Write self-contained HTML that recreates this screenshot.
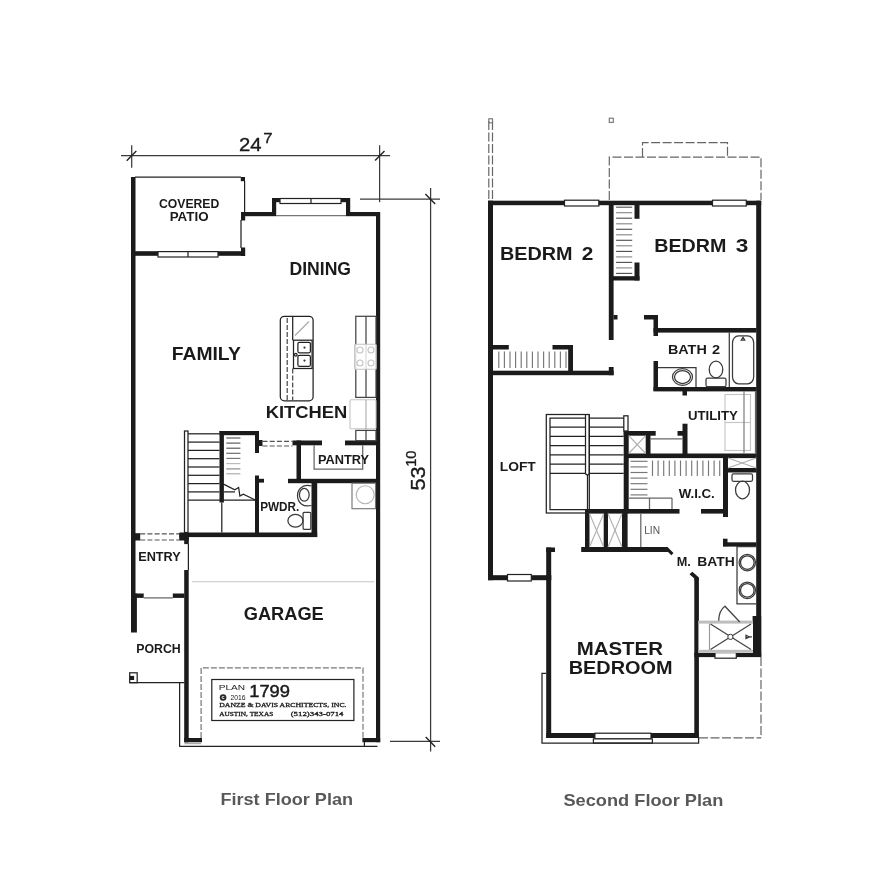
<!DOCTYPE html>
<html lang="en">
<head>
<meta charset="utf-8">
<title>Floor Plan 1799</title>
<style>
html,body{margin:0;padding:0;background:#fff;}
body{width:878px;height:894px;overflow:hidden;}
svg{display:block;will-change:transform;filter:blur(0.4px);}
.w{fill:#1b1b1b;}
.t{stroke:#222;stroke-width:1.25;fill:none;}
.tl{stroke:#777;stroke-width:1.15;fill:none;}
.g{stroke:#c4c4c4;stroke-width:1.1;fill:none;}
.d{stroke:#444;stroke-width:1.2;fill:none;stroke-dasharray:5 2.2;}
.win{fill:#fff;stroke:#222;stroke-width:1.2;}
text{font-family:"Liberation Sans",sans-serif;fill:#1a1a1a;font-weight:bold;text-anchor:middle;}
.cap{fill:#666;font-size:16.5px;}
.ser{font-family:"Liberation Serif",serif;font-weight:bold;font-size:7px;text-anchor:start;}
</style>
</head>
<body>
<svg width="878" height="894" viewBox="0 0 878 894">
<rect x="0" y="0" width="878" height="894" fill="#ffffff"/>

<!-- ================= FIRST FLOOR ================= -->
<g id="first-floor">
<!-- dimension lines -->
<g class="t" style="stroke:#3a3a3a">
<line x1="121" y1="155.6" x2="390" y2="155.6"/>
<line x1="131.7" y1="145.3" x2="131.7" y2="167.7"/>
<line x1="379.6" y1="145.3" x2="379.6" y2="202.2"/>
<line x1="360" y1="199" x2="440" y2="199"/>
<line x1="430.6" y1="188" x2="430.6" y2="751.6"/>
<line x1="390" y1="741.4" x2="440" y2="741.4"/>
</g>
<g style="stroke:#222;stroke-width:1.4;fill:none">
<line x1="126.7" y1="160.8" x2="136.3" y2="150.9"/>
<line x1="375.1" y1="160.6" x2="384.5" y2="151"/>
<line x1="425.4" y1="194" x2="435.2" y2="203.9"/>
<line x1="425.7" y1="736.9" x2="435.2" y2="746.7"/>
</g>

<!-- walls -->
<g class="w">
<rect x="131" y="177" width="4.5" height="420"/>
<rect x="131" y="593.5" width="5.9" height="39"/>
<rect x="240.8" y="177" width="4.2" height="4.2"/>
<rect x="241" y="212" width="35" height="4.2"/>
<rect x="241" y="212" width="4.2" height="8.5"/>
<rect x="272" y="198" width="4.2" height="18"/>
<rect x="272" y="198" width="8" height="4.2"/>
<rect x="341" y="198" width="9" height="4.2"/>
<rect x="346" y="198" width="4.2" height="18"/>
<rect x="346" y="212" width="34" height="4.2"/>
<rect x="376" y="212" width="4.2" height="530.2"/>
<rect x="362.4" y="738" width="17.8" height="4.2"/>
<rect x="135" y="251.2" width="23" height="4.6"/>
<rect x="218" y="251.2" width="27" height="4.6"/>
<rect x="241" y="247.5" width="4.2" height="8.5"/>
<!-- interior -->
<rect x="219.5" y="431" width="4.4" height="71.5"/>
<rect x="219.5" y="431" width="39.5" height="4.2"/>
<rect x="255" y="431" width="4" height="22"/>
<rect x="259" y="440" width="3.5" height="6"/>
<rect x="292.5" y="440.5" width="29.5" height="4.8"/>
<rect x="345" y="440.5" width="31" height="4.8"/>
<rect x="296.5" y="440.5" width="4.5" height="42.5"/>
<rect x="288" y="478.8" width="88" height="4.4"/>
<rect x="311.5" y="483" width="5.7" height="54"/>
<rect x="255" y="475.5" width="4" height="57.5"/>
<rect x="259" y="478.8" width="5" height="3.8"/>
<rect x="179.5" y="532.5" width="137.7" height="4.6"/>
<rect x="179.2" y="533" width="9.6" height="7.5"/><rect x="184.2" y="533" width="4.6" height="11.1"/>
<rect x="135" y="533.2" width="5.2" height="7.3"/>
<rect x="184.2" y="570" width="4.5" height="172.3"/>
<rect x="184.2" y="738" width="17.8" height="4.3"/>
<rect x="135" y="593.5" width="8.7" height="4.4"/>
<rect x="172.8" y="593.5" width="11.5" height="4.4"/>
</g>

<!-- thin lines -->
<g class="t">
<line x1="135" y1="177.2" x2="241" y2="177.2" style="stroke-width:1.2"/>
<line x1="244.6" y1="181" x2="244.6" y2="212"/>
<line x1="241" y1="220" x2="241" y2="248"/>
<line x1="276" y1="215.6" x2="346" y2="215.6" style="stroke:#777"/>
<line x1="188.4" y1="544" x2="188.4" y2="570"/>
<line x1="143.7" y1="597.9" x2="172.8" y2="597.9" style="stroke:#666"/>
<line x1="129.7" y1="682.7" x2="184.4" y2="682.7" style="stroke-width:1.2"/>
<line x1="179.6" y1="682.5" x2="179.6" y2="746.5"/>
<line x1="179.2" y1="746.4" x2="377.5" y2="746.4"/><line x1="364.4" y1="742" x2="364.4" y2="746.4"/>
<line x1="184.5" y1="743.6" x2="201" y2="743.6" style="stroke:#aaa"/>
<rect x="129.7" y="672.8" width="7.5" height="9.9"/>
</g>
<rect class="w" x="129.7" y="675.9" width="4.4" height="4.1"/>
<line class="g" x1="192" y1="581.8" x2="374" y2="581.8"/>

<!-- windows -->
<rect class="win" x="158" y="251.6" width="60" height="5.4"/>
<line class="t" x1="188" y1="251.6" x2="188" y2="257"/>
<rect class="win" x="280" y="198.5" width="61" height="5"/>
<line class="t" x1="311" y1="198.5" x2="311" y2="203.5"/>

<!-- dashed door openings -->
<g class="d" style="stroke:#555">
<line x1="262.5" y1="441.3" x2="292.5" y2="441.3"/>
<line x1="262.5" y1="446" x2="292.5" y2="446"/>
<line x1="140.2" y1="533.8" x2="179.2" y2="533.8"/>
<line x1="140.2" y1="540" x2="179.2" y2="540"/>
</g>

<!-- stairs -->
<g class="t">
<rect x="184.5" y="431" width="3.5" height="101.5"/>
<line x1="188" y1="433.8" x2="219.5" y2="433.8"/>
<line x1="188" y1="442.1" x2="219.5" y2="442.1"/>
<line x1="188" y1="450.4" x2="219.5" y2="450.4"/>
<line x1="188" y1="458.7" x2="219.5" y2="458.7"/>
<line x1="188" y1="467" x2="219.5" y2="467"/>
<line x1="188" y1="475.3" x2="219.5" y2="475.3"/>
<line x1="188" y1="483.6" x2="219.5" y2="483.6"/>
<line x1="188" y1="491.9" x2="219.5" y2="491.9"/>
<line x1="188" y1="500.2" x2="255" y2="500.2"/>
<line x1="221.8" y1="502.5" x2="221.8" y2="532.5"/>
<polyline points="219.8,482.4 224.5,484.6 234.8,489.7 238.6,487.5 239.9,496 243.3,494.3 255.3,500"/>
<line x1="224" y1="491.9" x2="235" y2="491.9"/>
</g>
<g class="tl" style="stroke:#555">
<line x1="226.3" y1="438" x2="240.4" y2="438"/>
<line x1="226.3" y1="443.1" x2="240.4" y2="443.1"/>
<line x1="226.3" y1="448.2" x2="240.4" y2="448.2"/>
<line x1="226.3" y1="453.3" x2="240.4" y2="453.3" style="stroke:#666"/>
<line x1="226.3" y1="458.4" x2="240.4" y2="458.4" style="stroke:#777"/>
<line x1="226.3" y1="463.6" x2="240.4" y2="463.6" style="stroke:#bbb"/>
<line x1="226.3" y1="468.9" x2="240.4" y2="468.9" style="stroke:#888"/>
<line x1="226.3" y1="473.8" x2="240.4" y2="473.8" style="stroke:#aaa"/>
</g>

<!-- kitchen island -->
<g class="t">
<rect x="280.3" y="316.3" width="32.8" height="84.5" rx="4" ry="4"/>
<line x1="292.7" y1="316.3" x2="292.7" y2="340.2"/>
<rect x="293.5" y="340.2" width="18.6" height="28.3"/>
<rect x="297.9" y="342.3" width="12.5" height="10.5" rx="1.5"/>
<rect x="297.9" y="355.4" width="12.5" height="11" rx="1.5"/>
<circle cx="295.8" cy="354.7" r="1.3"/>
</g>
<line class="tl" x1="309" y1="321.5" x2="295" y2="335.5" style="stroke:#aaa"/>
<g class="d" style="stroke:#444;stroke-dasharray:5 2">
<line x1="287.2" y1="318" x2="287.2" y2="400"/>
<line x1="292.7" y1="368.5" x2="292.7" y2="400"/>
</g>
<circle cx="304.5" cy="347.6" r="1.1" fill="#333"/>
<circle cx="304.5" cy="360.6" r="1.1" fill="#333"/>

<!-- right counter -->
<g class="t" style="stroke:#444">
<rect x="355.8" y="316.3" width="20.2" height="81.1"/>
<line x1="366" y1="316.3" x2="366" y2="397.4"/>
<rect x="355.8" y="430.4" width="20.2" height="10.3"/>
<line x1="366" y1="430.4" x2="366" y2="440.5"/>
</g>
<g class="g">
<rect x="354.6" y="344.2" width="21.6" height="25" fill="#fff" fill-opacity="0.8" rx="1"/>
<circle cx="360" cy="350" r="3"/><circle cx="371" cy="350" r="3"/>
<circle cx="360" cy="363" r="3"/><circle cx="371" cy="363" r="3"/>
<rect x="350" y="399.8" width="26" height="29" fill="#fff" rx="1"/>
<line x1="366" y1="400" x2="366" y2="430" style="stroke:#aaa"/>
</g>

<!-- pantry shelves -->
<g class="t" style="stroke:#666">
<polyline points="314.1,445.3 314.1,469.1 362.7,469.1 362.7,445.3"/>
</g>
<!-- water heater -->
<g class="tl">
<rect x="352" y="483.2" width="23.5" height="25.5"/>
<circle cx="365.2" cy="494.7" r="9" style="stroke:#b5b5b5"/>
</g>

<!-- powder room fixtures -->
<g class="t" style="stroke:#3a3a3a">
<path d="M311.5,486 C303,483.5 297.5,489 297.5,495.6 C297.5,502.5 303,507.5 311.5,505.5"/>
<ellipse cx="304.3" cy="494.8" rx="4.9" ry="6.4"/>
<ellipse cx="295.4" cy="520.8" rx="7.5" ry="6.4"/>
<rect x="303.1" y="512.3" width="7.7" height="17" rx="1"/>
</g>

<!-- garage dashed + title block -->
<polyline class="d" style="stroke:#777;stroke-dasharray:6 2" points="201.1,738 201.1,667.8 363,667.8 363,738"/>
<rect x="211.8" y="679.5" width="142.1" height="41" fill="#fff" stroke="#222" stroke-width="1.2"/>
<circle cx="223.1" cy="697.5" r="3.3" fill="#2a2a2a"/><text x="223.1" y="699.4" font-size="5.5" style="fill:#fff">c</text>

<!-- labels -->
</g>

<!-- ================= SECOND FLOOR ================= -->
<g id="second-floor">
<!-- dashed roof outlines -->
<g class="d" style="stroke:#666;stroke-dasharray:9 2.5">
<line x1="488.8" y1="121" x2="488.8" y2="200"/>
<line x1="492.5" y1="121" x2="492.5" y2="200"/>
<polyline points="609.3,200 609.3,157.2 761,157.2 761,200"/>
<polyline points="642.5,157 642.5,142.6 727.5,142.6 727.5,157"/>
<line x1="761" y1="657" x2="761" y2="738"/>
<line x1="699" y1="737.8" x2="761" y2="737.8"/>
</g>
<g class="tl">
<rect x="488.8" y="118.8" width="3.7" height="4"/>
<rect x="609.3" y="118.2" width="4" height="4.2"/>
</g>
<!-- walls -->
<g class="w">
<rect x="488" y="200.7" width="273.2" height="4.5"/>
<rect x="488" y="200.7" width="5" height="379.5"/>
<rect x="756.2" y="200.7" width="5" height="455.5"/>
<rect x="488" y="575.2" width="63.3" height="5"/>
<rect x="608.8" y="205" width="4.8" height="135"/>
<rect x="613.5" y="315" width="4" height="4.5"/>
<rect x="634.5" y="205" width="5" height="13.8"/>
<rect x="634.5" y="262.5" width="5" height="18"/>
<rect x="613" y="276.2" width="26.5" height="4.3"/>
<rect x="644" y="315" width="13.8" height="4.5"/>
<rect x="653.5" y="315" width="4.5" height="21"/>
<rect x="653.5" y="328" width="103" height="4.6"/>
<rect x="493" y="345" width="15.8" height="4.5"/>
<rect x="552.5" y="345" width="20.5" height="4.5"/>
<rect x="568.2" y="345" width="4.8" height="30"/>
<rect x="493" y="370.7" width="120.6" height="4.5"/>
<rect x="608.8" y="367" width="4.8" height="8.2"/>
<rect x="653.5" y="361" width="4.5" height="30"/>
<rect x="653.5" y="387" width="103" height="4.4"/>
<rect x="682.5" y="391" width="4.5" height="4.5"/>
<rect x="682.5" y="423.7" width="5" height="34.3"/>
<rect x="677.5" y="431" width="6" height="4.7"/>
<rect x="628" y="453.5" width="128.5" height="4.6"/>
<rect x="623.7" y="431" width="5" height="82.3"/>
<rect x="623.7" y="431" width="32" height="4.7"/>
<rect x="645.7" y="431" width="4.8" height="23"/>
<rect x="728" y="468" width="28.5" height="4.5"/>
<rect x="723" y="458" width="5" height="59"/>
<rect x="585" y="509" width="94.5" height="4.6"/>
<rect x="701" y="509" width="27" height="4.6"/>
<rect x="585" y="509" width="4.5" height="43"/>
<rect x="603.7" y="509" width="4.3" height="43"/>
<rect x="622" y="509" width="5.6" height="43"/>
<rect x="546.2" y="547.5" width="5" height="190.5"/>
<rect x="546.2" y="547.5" width="8.8" height="4.5"/>
<rect x="546.2" y="733" width="152.5" height="5"/>
<rect x="694.3" y="579" width="4.6" height="159"/>
<rect x="723" y="538.7" width="4.5" height="7.5"/>
<rect x="723" y="542.3" width="33.5" height="4.3"/>
<rect x="752.6" y="616" width="8.6" height="41"/>
<rect x="694.3" y="652.8" width="66.9" height="4.3"/>
<polygon points="581.2,547 667.5,547 673.5,553 671.3,555.3 668,552 581.2,552"/>
<polygon points="694.3,580 694.3,578.5 689.5,574.3 692.3,571.8 698.9,577.5 698.9,580"/>
</g>
<!-- windows -->
<rect class="win" x="564.5" y="200.2" width="34.3" height="5.8"/>
<rect class="win" x="712.5" y="200.2" width="33.8" height="5.8"/>
<rect class="win" x="507.5" y="574.5" width="23.8" height="6.5"/>
<rect class="win" x="715" y="652.6" width="21.3" height="5.6"/>
<rect class="win" x="594.9" y="733.2" width="56.1" height="5.7"/><rect class="win" x="593.4" y="738.9" width="59" height="4.2"/>
<g class="t">
<polyline points="546,673.4 542,673.4 542,743.1 698.6,743.1 698.6,738"/>
</g>
<g class="tl" style="stroke:#777">
<line x1="616.1" y1="207.2" x2="632.2" y2="207.2" style="stroke:#555"/>
<line x1="616.1" y1="212.7" x2="632.2" y2="212.7" style="stroke:#8a8a8a"/>
<line x1="616.1" y1="218.2" x2="632.2" y2="218.2" style="stroke:#555"/>
<line x1="616.1" y1="223.8" x2="632.2" y2="223.8" style="stroke:#8a8a8a"/>
<line x1="616.1" y1="229.3" x2="632.2" y2="229.3" style="stroke:#555"/>
<line x1="616.1" y1="234.8" x2="632.2" y2="234.8" style="stroke:#8a8a8a"/>
<line x1="616.1" y1="240.3" x2="632.2" y2="240.3" style="stroke:#555"/>
<line x1="616.1" y1="245.8" x2="632.2" y2="245.8" style="stroke:#8a8a8a"/>
<line x1="616.1" y1="251.4" x2="632.2" y2="251.4" style="stroke:#555"/>
<line x1="616.1" y1="256.9" x2="632.2" y2="256.9" style="stroke:#8a8a8a"/>
<line x1="616.1" y1="262.4" x2="632.2" y2="262.4" style="stroke:#555"/>
<line x1="616.1" y1="267.9" x2="632.2" y2="267.9" style="stroke:#8a8a8a"/>
<line x1="616.1" y1="273.4" x2="632.2" y2="273.4" style="stroke:#555"/>
</g>
<g class="tl" style="stroke:#777">
<line x1="498.8" y1="351.5" x2="498.8" y2="368"/>
<line x1="504.4" y1="351.5" x2="504.4" y2="368"/>
<line x1="510.0" y1="351.5" x2="510.0" y2="368"/>
<line x1="515.6" y1="351.5" x2="515.6" y2="368"/>
<line x1="521.2" y1="351.5" x2="521.2" y2="368"/>
<line x1="526.8" y1="351.5" x2="526.8" y2="368"/>
<line x1="532.4" y1="351.5" x2="532.4" y2="368"/>
<line x1="538.0" y1="351.5" x2="538.0" y2="368"/>
<line x1="543.6" y1="351.5" x2="543.6" y2="368"/>
<line x1="549.2" y1="351.5" x2="549.2" y2="368"/>
<line x1="554.8" y1="351.5" x2="554.8" y2="368"/>
<line x1="560.4" y1="351.5" x2="560.4" y2="368"/>
<line x1="566.0" y1="351.5" x2="566.0" y2="368"/>
</g>
<g class="tl" style="stroke:#777">
<line x1="652.5" y1="460.5" x2="652.5" y2="476"/>
<line x1="658.1" y1="460.5" x2="658.1" y2="476"/>
<line x1="663.7" y1="460.5" x2="663.7" y2="476"/>
<line x1="669.3" y1="460.5" x2="669.3" y2="476"/>
<line x1="674.9" y1="460.5" x2="674.9" y2="476"/>
<line x1="680.5" y1="460.5" x2="680.5" y2="476"/>
<line x1="686.1" y1="460.5" x2="686.1" y2="476"/>
<line x1="691.7" y1="460.5" x2="691.7" y2="476"/>
<line x1="697.3" y1="460.5" x2="697.3" y2="476"/>
<line x1="702.9" y1="460.5" x2="702.9" y2="476"/>
<line x1="708.5" y1="460.5" x2="708.5" y2="476"/>
<line x1="714.1" y1="460.5" x2="714.1" y2="476"/>
<line x1="719.7" y1="460.5" x2="719.7" y2="476"/>
<line x1="630.5" y1="461.3" x2="647.5" y2="461.3"/>
<line x1="630.5" y1="466.9" x2="647.5" y2="466.9"/>
<line x1="630.5" y1="472.5" x2="647.5" y2="472.5"/>
<line x1="630.5" y1="478.1" x2="647.5" y2="478.1"/>
<line x1="630.5" y1="483.7" x2="647.5" y2="483.7"/>
<line x1="630.5" y1="489.3" x2="647.5" y2="489.3"/>
<line x1="630.5" y1="494.9" x2="647.5" y2="494.9"/>
</g>
<g class="t" style="stroke:#666">
<line x1="628.7" y1="498" x2="672" y2="498"/>
<line x1="649.5" y1="498" x2="649.5" y2="509"/>
<line x1="672" y1="498" x2="672" y2="509"/>
<line x1="650.5" y1="438.8" x2="682.5" y2="438.8"/>
</g>
<g class="t">
<rect x="546.3" y="414.5" width="43" height="98.5"/>
<polyline points="585.5,418 550,418 550,509.5 587.5,509.5"/>
<path d="M585.5,414.5 V473 a1.9,1.9 0 0 0 3.8,0 V414.5"/>
<line x1="587.5" y1="475" x2="587.5" y2="509.5"/>
<line x1="550" y1="427" x2="585.5" y2="427"/>
<line x1="550" y1="436.3" x2="585.5" y2="436.3"/>
<line x1="550" y1="445.6" x2="585.5" y2="445.6"/>
<line x1="550" y1="454.9" x2="585.5" y2="454.9"/>
<line x1="550" y1="464.2" x2="585.5" y2="464.2"/>
<line x1="550" y1="473.4" x2="585.5" y2="473.4"/>
<line x1="589.3" y1="418" x2="623.7" y2="418"/>
<line x1="589.3" y1="427" x2="623.7" y2="427"/>
<line x1="589.3" y1="436.3" x2="623.7" y2="436.3"/>
<line x1="589.3" y1="445.6" x2="623.7" y2="445.6"/>
<line x1="589.3" y1="454.9" x2="623.7" y2="454.9"/>
<line x1="589.3" y1="464.2" x2="623.7" y2="464.2"/>
<line x1="589.3" y1="473.4" x2="623.7" y2="473.4"/>
<rect x="623.8" y="415.8" width="4.2" height="15.2"/>
</g>
<g class="tl" style="stroke:#b0b0b0">
<line x1="628.7" y1="435.7" x2="645.7" y2="453.5"/><line x1="628.7" y1="453.5" x2="645.7" y2="435.7"/>
<line x1="728" y1="458" x2="756.2" y2="468"/><line x1="728" y1="468" x2="756.2" y2="458"/>
<line x1="589.5" y1="513.6" x2="603.7" y2="547"/><line x1="589.5" y1="547" x2="603.7" y2="513.6"/>
<line x1="608" y1="513.6" x2="622" y2="547"/><line x1="608" y1="547" x2="622" y2="513.6"/>
</g>
<line class="t" style="stroke:#666" x1="640.8" y1="513.6" x2="640.8" y2="547"/>
<g class="t" style="stroke:#3a3a3a">
<polyline points="658,367.5 696,367.5 696,387"/>
<ellipse cx="682.5" cy="377" rx="10" ry="8.3"/>
<ellipse cx="682.5" cy="377" rx="8" ry="6.5"/>
<ellipse cx="716" cy="369.5" rx="6.8" ry="8.4"/>
<rect x="706" y="378.2" width="20" height="8.5" rx="1.5"/>
<line x1="729.3" y1="332.5" x2="729.3" y2="387"/>
<rect x="732.5" y="335.8" width="21.2" height="48" rx="6" ry="7"/>
<polygon points="743,337.2 741.3,340 744.7,340"/>
</g>
<g class="g">
<rect x="725" y="394.5" width="25.5" height="56"/>
<line x1="725" y1="422.5" x2="750.5" y2="422.5"/>
</g>
<line class="tl" x1="744" y1="391.3" x2="744" y2="453.5"/>
<line class="t" style="stroke:#666" x1="755.5" y1="391.3" x2="755.5" y2="453.5"/>
<g class="t" style="stroke:#3a3a3a">
<rect x="732" y="473.8" width="20.5" height="7.5" rx="1.5"/>
<ellipse cx="742.5" cy="490" rx="7" ry="8.8"/>
<polyline points="756,546.5 737,546.5 737,603.9 756,603.9"/>
<circle cx="747.3" cy="562.6" r="8.2"/><circle cx="747.3" cy="562.6" r="6.8"/>
<circle cx="747.3" cy="590.3" r="8.2"/><circle cx="747.3" cy="590.3" r="6.8"/>
</g>
<rect x="698.5" y="620.8" width="54.5" height="32" fill="#fff"/>
<rect x="698.5" y="620.6" width="54.5" height="3" fill="#bdbdbd"/>
<rect x="698.5" y="649.8" width="54.5" height="3" fill="#bdbdbd"/>
<line class="tl" x1="709.5" y1="623.6" x2="709.5" y2="649.8" style="stroke:#999"/>
<g class="t" style="stroke:#444">
<line x1="710.5" y1="624" x2="751" y2="649.5"/><line x1="710.5" y1="649.5" x2="751" y2="624"/>
</g>
<circle cx="730.4" cy="636.9" r="2.6" fill="#fff" stroke="#333" stroke-width="1"/>
<path class="t" style="stroke:#333" d="M746,635.2 l3.4,1.7 l-3.4,1.7 z M749.4,636.9 h2.5"/>
<path class="t" style="stroke:#444" d="M718.7,620.8 C718.7,614 721,609 724.9,606.2 L739.8,622"/>
</g>
<!--LABELS-->
<text id="d24" x="238.95" y="150.75" font-size="19.21" textLength="22.60" lengthAdjust="spacingAndGlyphs" style="text-anchor:start;font-weight:normal;stroke:#1a1a1a;stroke-width:.35">24</text>
<text id="d7" x="263.20" y="142.50" font-size="15.37" textLength="9.35" lengthAdjust="spacingAndGlyphs" style="text-anchor:start;font-weight:normal;stroke:#1a1a1a;stroke-width:.3">7</text>
<text id="cov" x="158.95" y="207.50" font-size="12.23" textLength="60.35" lengthAdjust="spacingAndGlyphs" style="text-anchor:start;">COVERED</text>
<text id="pat" x="169.70" y="221.25" font-size="12.58" textLength="38.85" lengthAdjust="spacingAndGlyphs" style="text-anchor:start;">PATIO</text>
<text id="din" x="289.45" y="275.25" font-size="17.46" textLength="61.60" lengthAdjust="spacingAndGlyphs" style="text-anchor:start;">DINING</text>
<text id="fam" x="171.70" y="359.50" font-size="18.19" textLength="69.10" lengthAdjust="spacingAndGlyphs" style="text-anchor:start;">FAMILY</text>
<text id="kit" x="265.70" y="418.00" font-size="17.11" textLength="81.60" lengthAdjust="spacingAndGlyphs" style="text-anchor:start;">KITCHEN</text>
<text id="pan" x="317.95" y="463.75" font-size="12.94" textLength="51.10" lengthAdjust="spacingAndGlyphs" style="text-anchor:start;">PANTRY</text>
<text id="pwd" x="260.20" y="511.00" font-size="12.23" textLength="39.10" lengthAdjust="spacingAndGlyphs" style="text-anchor:start;">PWDR.</text>
<text id="ent" x="138.20" y="560.50" font-size="12.23" textLength="42.60" lengthAdjust="spacingAndGlyphs" style="text-anchor:start;">ENTRY</text>
<text id="gar" x="243.70" y="620.25" font-size="17.46" textLength="80.10" lengthAdjust="spacingAndGlyphs" style="text-anchor:start;">GARAGE</text>
<text id="por" x="136.20" y="652.50" font-size="12.23" textLength="44.60" lengthAdjust="spacingAndGlyphs" style="text-anchor:start;">PORCH</text>
<text id="c1" x="220.45" y="805.00" font-size="16.08" textLength="132.60" lengthAdjust="spacingAndGlyphs" style="text-anchor:start;fill:#585858">First Floor Plan</text>
<text id="b2a" x="499.95" y="260.00" font-size="18.88" textLength="72.60" lengthAdjust="spacingAndGlyphs" style="text-anchor:start;">BEDRM</text>
<text id="b2b" x="581.70" y="260.00" font-size="18.51" textLength="11.60" lengthAdjust="spacingAndGlyphs" style="text-anchor:start;">2</text>
<text id="b3a" x="654.20" y="251.75" font-size="18.88" textLength="72.10" lengthAdjust="spacingAndGlyphs" style="text-anchor:start;">BEDRM</text>
<text id="b3b" x="735.70" y="251.50" font-size="18.16" textLength="12.60" lengthAdjust="spacingAndGlyphs" style="text-anchor:start;">3</text>
<text id="baa" x="667.95" y="354.25" font-size="13.64" textLength="38.85" lengthAdjust="spacingAndGlyphs" style="text-anchor:start;">BATH</text>
<text id="bab" x="711.95" y="354.25" font-size="13.28" textLength="8.10" lengthAdjust="spacingAndGlyphs" style="text-anchor:start;">2</text>
<text id="uti" x="687.95" y="419.50" font-size="13.64" textLength="49.85" lengthAdjust="spacingAndGlyphs" style="text-anchor:start;">UTILITY</text>
<text id="lof" x="499.70" y="471.25" font-size="13.28" textLength="36.10" lengthAdjust="spacingAndGlyphs" style="text-anchor:start;">LOFT</text>
<text id="wic" x="678.70" y="498.25" font-size="12.93" textLength="36.10" lengthAdjust="spacingAndGlyphs" style="text-anchor:start;">W.I.C.</text>
<text id="mba" x="676.70" y="566.00" font-size="13.31" textLength="14.10" lengthAdjust="spacingAndGlyphs" style="text-anchor:start;">M.</text>
<text id="mbb" x="697.20" y="566.00" font-size="13.31" textLength="37.60" lengthAdjust="spacingAndGlyphs" style="text-anchor:start;">BATH</text>
<text id="mas" x="576.70" y="654.75" font-size="18.16" textLength="86.35" lengthAdjust="spacingAndGlyphs" style="text-anchor:start;">MASTER</text>
<text id="bed" x="568.70" y="674.00" font-size="18.16" textLength="103.85" lengthAdjust="spacingAndGlyphs" style="text-anchor:start;">BEDROOM</text>
<text id="lin" x="644.20" y="533.75" font-size="11.20" textLength="15.85" lengthAdjust="spacingAndGlyphs" style="text-anchor:start;font-weight:normal;fill:#555">LIN</text>
<text id="tpl" x="218.70" y="690.00" font-size="7.36" textLength="26.35" lengthAdjust="spacingAndGlyphs" style="text-anchor:start;font-weight:normal">PLAN</text>
<text id="t17" x="249.20" y="696.75" font-size="17.11" textLength="40.85" lengthAdjust="spacingAndGlyphs" style="text-anchor:start;font-weight:normal;stroke:#1a1a1a;stroke-width:.45">1799</text>
<text id="t20" x="230.45" y="700.00" font-size="6.62" textLength="15.10" lengthAdjust="spacingAndGlyphs" style="text-anchor:start;font-weight:normal">2016</text>
<text id="tdd" x="219.20" y="707.00" font-size="6.53" textLength="127.35" lengthAdjust="spacingAndGlyphs" style="text-anchor:start;font-family:'Liberation Serif',serif;font-weight:normal;stroke:#1a1a1a;stroke-width:.3">DANZE &amp; DAVIS ARCHITECTS, INC.</text>
<text id="tau" x="219.20" y="715.75" font-size="6.66" textLength="54.10" lengthAdjust="spacingAndGlyphs" style="text-anchor:start;font-family:'Liberation Serif',serif;font-weight:normal;stroke:#1a1a1a;stroke-width:.3">AUSTIN, TEXAS</text>
<text id="tph" x="290.70" y="715.75" font-size="6.77" textLength="52.85" lengthAdjust="spacingAndGlyphs" style="text-anchor:start;font-family:'Liberation Serif',serif;font-weight:normal;stroke:#1a1a1a;stroke-width:.3">(512)343-0714</text>
<text id="c2" x="563.45" y="805.75" font-size="16.78" textLength="159.85" lengthAdjust="spacingAndGlyphs" style="text-anchor:start;fill:#585858">Second Floor Plan</text>
<text id="d53" transform="translate(425.00,490.55) rotate(-90)" font-size="19.91" textLength="24.10" lengthAdjust="spacingAndGlyphs" style="text-anchor:start;font-weight:normal;stroke:#1a1a1a;stroke-width:.35">53</text>
<text id="d10" transform="translate(416.25,466.80) rotate(-90)" font-size="15.37" textLength="16.35" lengthAdjust="spacingAndGlyphs" style="text-anchor:start;font-weight:normal;stroke:#1a1a1a;stroke-width:.3">10</text>
<!--/LABELS-->
</svg>
</body>
</html>
